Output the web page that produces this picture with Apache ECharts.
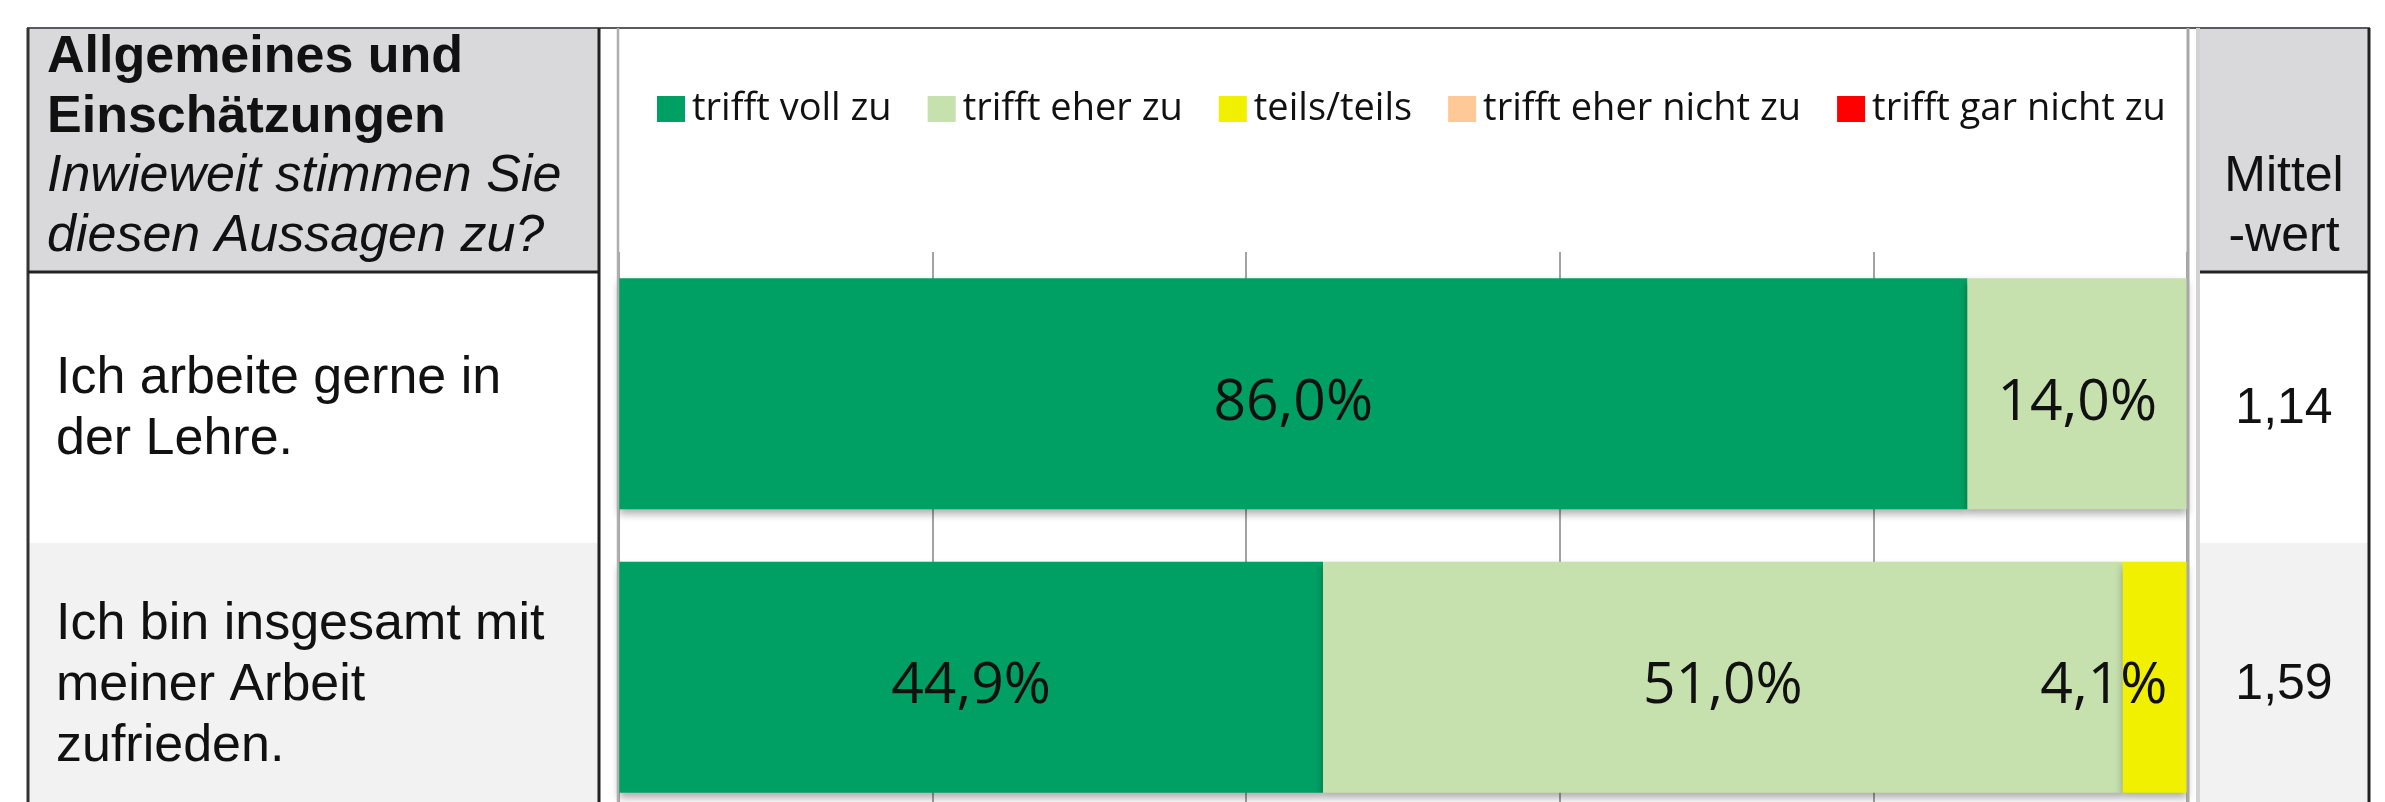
<!DOCTYPE html>
<html>
<head>
<meta charset="utf-8">
<script src="https://cdn.jsdelivr.net/npm/echarts@6/dist/echarts.min.js"></script>
<style>
  html, body { margin: 0; padding: 0; background: #ffffff; }
  #chart { width: 2385px; height: 802px; }
</style>
</head>
<body>
<div id="chart"></div>
<script>
// ---- data ----
const categories = ['Ich arbeite gerne in\nder Lehre.', 'Ich bin insgesamt mit\nmeiner Arbeit\nzufrieden.'];
const seriesNames = ['trifft voll zu', 'trifft eher zu', 'teils/teils', 'trifft eher nicht zu', 'trifft gar nicht zu'];
const trifftVollZu = [86.0, 44.9];
const trifftEherZu = [14.0, 51.0];
const teilsTeils = [0, 4.1];
const trifftEherNichtZu = [0, 0];
const trifftGarNichtZu = [0, 0];
const mittelwerte = ['1,14', '1,59'];
const headerBold = ['Allgemeines und', 'Einschätzungen'];
const headerItalic = ['Inwieweit stimmen Sie', 'diesen Aussagen zu?'];
const mittelHeader = ['Mittel', '-wert'];

// ---- styles ----
const colors = ['#00A064', '#C6E0AE', '#F0F000', '#FFC896', '#FF0000'];
const allSeries = [trifftVollZu, trifftEherZu, teilsTeils, trifftEherNichtZu, trifftGarNichtZu];
const tableFont = 'Liberation Sans, Arial, sans-serif';
const chartFont = 'Open Sans, sans-serif';
const rowShiftPad = [30, 16]; // vertical text nudge per row (padding top, shifts by half)

function fmtPct(v) { return v.toFixed(1).replace('.', ',') + '%'; }

const chart = echarts.init(document.getElementById('chart'), null, { renderer: 'canvas' });

const series = allSeries.map((arr, i) => ({
  name: seriesNames[i],
  type: 'bar',
  stack: 'total',
  barCategoryGap: '18.5%',
  itemStyle: {
    color: colors[i],
    shadowColor: 'rgba(0,0,0,0.32)',
    shadowBlur: 8,
    shadowOffsetY: 5
  },
  label: {
    show: true,
    position: 'inside',
    fontSize: 57,
    fontFamily: chartFont,
    color: '#111',
    offset: [0, 10],
    formatter: p => (p.value > 0 ? fmtPct(p.value) : '')
  },
  data: arr.map(v => (v > 0 && v < 8) ? { value: v, label: { offset: [-51, 10] } } : v)
}));

function line(x1, y1, x2, y2, stroke, w) {
  return { type: 'line', z: 100, shape: { x1, y1, x2, y2 }, style: { stroke, lineWidth: w } };
}
function rect(x, y, width, height, fill) {
  return { type: 'rect', z: -10, shape: { x, y, width, height }, style: { fill } };
}
function text(x, y, t, opts) {
  return { type: 'text', z: 50, x, y, style: Object.assign({
    text: t, fontFamily: tableFont, fontSize: 52, fill: '#111', align: 'left', verticalAlign: 'middle'
  }, opts || {}) };
}

const graphics = [
  rect(28, 28, 572, 244, '#D9D9DB'),
  rect(28, 543, 572, 262, '#F2F2F2'),
  rect(2200, 28, 169, 244, '#D9D9DB'),
  rect(2200, 543, 169, 262, '#F2F2F2'),
  line(27, 28, 2370, 28, '#5A5A5A', 2),
  line(28, 28, 28, 802, '#333333', 3),
  line(599, 28, 599, 802, '#222222', 3),
  line(28, 272, 600, 272, '#222222', 3),
  line(618, 28, 618, 802, '#AFAFAF', 2.5),
  line(2188, 28, 2188, 802, '#A8A8A8', 3),
  line(2198, 28, 2198, 802, '#D3D3D3', 4),
  line(2369, 28, 2369, 802, '#222222', 3),
  line(2200, 272, 2369, 272, '#222222', 3)
];
headerBold.forEach((t, i) => graphics.push(text(47, 58 + i * 59.5, t, { fontWeight: 'bold' })));
headerItalic.forEach((t, i) => graphics.push(text(47, 177 + i * 60, t, { fontStyle: 'italic' })));
mittelHeader.forEach((t, i) => graphics.push(text(2284, 177 + i * 60, t, { fontSize: 50, align: 'center' })));

const rowRich = {};
const valRich = {};
rowShiftPad.forEach((p, i) => {
  rowRich['r' + i] = { fontSize: 52, lineHeight: 61, fontFamily: tableFont, color: '#111', padding: [p, 0, 0, 0] };
  valRich['v' + i] = { fontSize: 50, lineHeight: 56, fontFamily: tableFont, color: '#111', padding: [p, 0, 0, 0] };
});

const option = {
  backgroundColor: '#ffffff',
  animation: false,
  color: colors,
  legend: {
    data: seriesNames,
    left: 657,
    top: 90,
    padding: 0,
    itemGap: 36,
    itemWidth: 28,
    itemHeight: 26,
    icon: 'rect',
    textStyle: { fontSize: 38, fontFamily: chartFont, color: '#111', padding: [0, 0, 0, 2] }
  },
  grid: {
    left: 619,
    top: 252,
    width: 1568,
    height: 567,
    containLabel: false,
    outerBoundsMode: 'none'
  },
  xAxis: {
    type: 'value',
    min: 0,
    max: 100,
    interval: 20,
    axisLabel: { show: false },
    axisLine: { show: false },
    axisTick: { show: false },
    splitLine: { show: true, lineStyle: { color: '#858585', width: 1.5 } }
  },
  yAxis: [
    {
      type: 'category',
      data: categories,
      inverse: true,
      axisLine: { show: false },
      axisTick: { show: false },
      axisLabel: {
        show: true,
        align: 'left',
        margin: 563,
        fontSize: 52,
        lineHeight: 61,
        fontFamily: tableFont,
        color: '#111',
        formatter: (value, idx) => value.split('\n').map(l => '{r' + idx + '|' + l + '}').join('\n'),
        rich: rowRich
      }
    },
    {
      type: 'category',
      data: categories,
      inverse: true,
      position: 'right',
      axisLine: { show: false },
      axisTick: { show: false },
      splitLine: { show: false },
      axisLabel: {
        show: true,
        align: 'center',
        margin: 97,
        fontSize: 50,
        fontFamily: tableFont,
        color: '#111',
        formatter: (v, idx) => '{v' + idx + '|' + mittelwerte[idx] + '}',
        rich: valRich
      }
    }
  ],
  graphic: graphics,
  series: series
};

chart.setOption(option);
</script>
</body>
</html>
